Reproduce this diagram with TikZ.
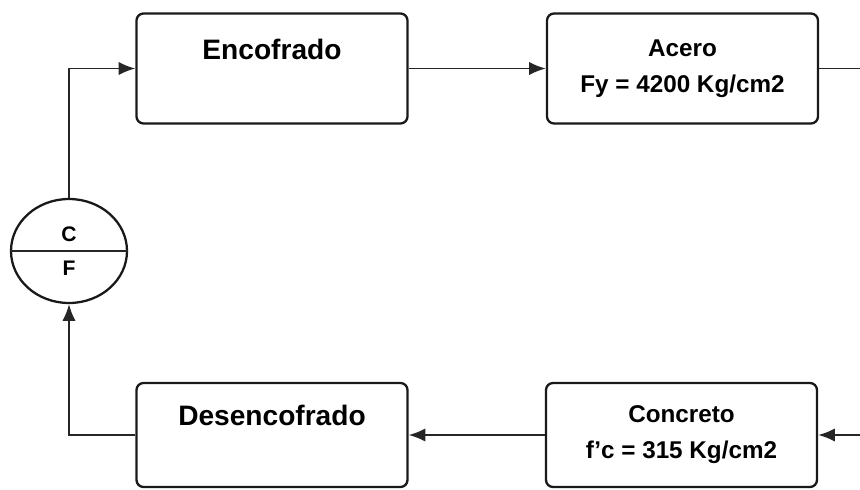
\documentclass[tikz,border=0pt]{standalone}
\usepackage{fontspec}
\setmainfont{Liberation Sans}
\usetikzlibrary{arrows.meta,positioning,calc,shapes.geometric}

\begin{document}
\begin{tikzpicture}[
    >={Latex[length=9.5pt,width=7.5pt]},
    stage/.style={draw=black!90,fill=white,line width=1.3pt,rounded corners=4pt,
        minimum width=5.42cm,minimum height=2.2cm,align=center,
        font=\bfseries\fontsize{16}{19}\selectfont},
    material/.style={stage,font=\bfseries\fontsize{13.8}{16.5}\selectfont},
    cycle/.style={ellipse,draw=black!90,line width=1.3pt,inner sep=0pt,
        minimum width=2.32cm,minimum height=2.08cm,align=center,
        font=\bfseries\fontsize{12}{14}\selectfont},
    flow/.style={draw=black!85,line width=1pt}]
\useasboundingbox (0,0) rectangle (17.2,-9.78);
\node[stage] (enc) at (5.44,-1.37) {Encofrado\\[3pt]\mbox{}};
\node[material] (ace) at (13.65,-1.37) {Acero\\[4pt]Fy = 4200 Kg/cm2};
\node[stage,minimum height=2.08cm] (des) at (5.44,-8.7) {Desencofrado\\[3pt]\mbox{}};
\node[material,minimum height=2.08cm] (con) at (13.63,-8.7) {Concreto\\[4pt]f'c = 315 Kg/cm2};
\node[cycle] (cf) at (1.38,-5.02) {C\\[5pt]F};
\coordinate (outR) at (17.2,-1.37);
\coordinate (inR) at (17.2,-8.7);
\draw[flow] (cf.west) -- (cf.east);
\draw[flow,->] (cf.north) |- (enc.west);
\draw[flow,->] (enc) -- (ace);
\draw[flow] (ace) -- (outR);
\draw[flow,->] (inR) -- (con);
\draw[flow,->] (con) -- (des);
\draw[flow,->] (des.west) -| (cf.south);
\end{tikzpicture}
\end{document}
